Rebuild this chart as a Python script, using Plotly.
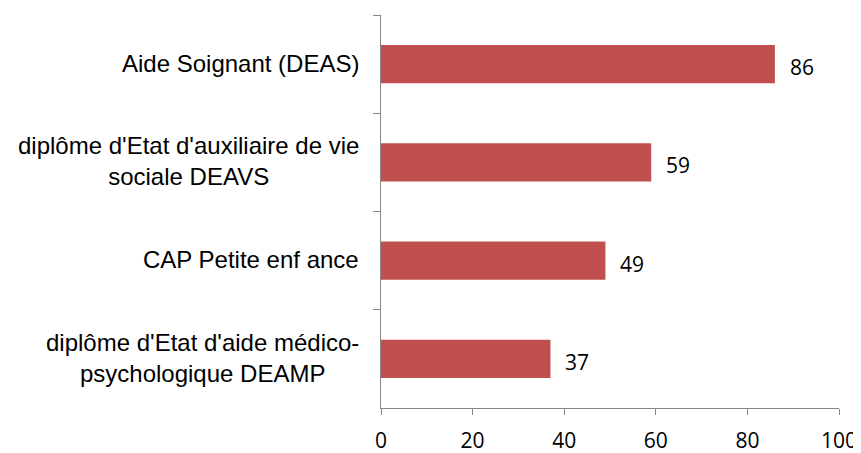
import plotly.graph_objects as go

categories = [
    "Aide Soignant (DEAS)",
    "diplôme d'Etat d'auxiliaire de vie<br>sociale DEAVS",
    "CAP Petite enf ance",
    "diplôme d'Etat d'aide médico-<br>psychologique DEAMP",
]
values = [86, 59, 49, 37]
x_ticks = [0, 20, 40, 60, 80, 100]

BAR_COLOR = "#C0504D"
AXIS_COLOR = "#868686"
LABEL_FONT = dict(family="Liberation Sans, Arial, sans-serif", size=24, color="#000000")
NUM_FONT = dict(family="Open Sans, sans-serif", size=21, color="#000000")

fig = go.Figure()
fig.add_trace(go.Bar(
    x=values, y=categories, orientation="h",
    marker=dict(color=BAR_COLOR, line=dict(width=0)),
    hoverinfo="skip",
))

for c, v in zip(categories, values):
    fig.add_annotation(x=v, y=c, xref="x", yref="y", text=str(v), showarrow=False,
                       xanchor="left", xshift=13, yshift=-3, font=NUM_FONT)
    fig.add_annotation(x=0, y=c, xref="paper", yref="y", text=c, showarrow=False,
                       xanchor="right", xshift=-20, yshift=1, align="center", font=LABEL_FONT)

# page body has an 8px margin: compensate so the plot area lands where the reference has it
fig.update_layout(
    template="none",
    width=853, height=445,
    margin=dict(l=373, r=22, t=7, b=45),
    paper_bgcolor="white", plot_bgcolor="white",
    bargap=0.61,
    showlegend=False,
)
fig.update_xaxes(
    range=[0, 100], tickvals=x_ticks, ticktext=[str(t) for t in x_ticks],
    showgrid=False, zeroline=False, showline=True, linecolor=AXIS_COLOR, linewidth=1,
    ticks="outside", ticklen=6, tickcolor=AXIS_COLOR, tickwidth=1,
    tickfont=NUM_FONT, automargin=False, ticklabelstandoff=8,
)
fig.update_yaxes(
    type="category", categoryorder="array", categoryarray=categories,
    range=[3.5, -0.5], showgrid=False, zeroline=False,
    showline=True, linecolor=AXIS_COLOR, linewidth=1,
    ticks="outside", ticklen=7, tickcolor=AXIS_COLOR, tickwidth=1,
    tickson="boundaries", showticklabels=False, automargin=False,
)

fig.write_html("out.html")
